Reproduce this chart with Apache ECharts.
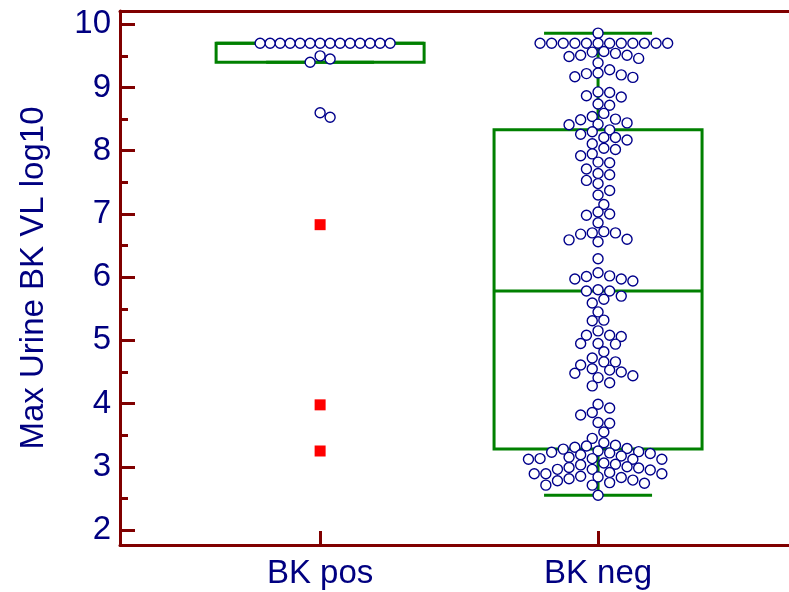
<!DOCTYPE html>
<html>
<head>
<meta charset="utf-8">
<script src="https://cdn.jsdelivr.net/npm/echarts@6/dist/echarts.min.js"></script>
<style>
  html, body { margin: 0; padding: 0; background: #fff; }
  #chart { width: 789px; height: 592px; }
</style>
</head>
<body>
<div id="chart"></div>
<script>
// groups on the x axis (placed at 1 and 2)
let categories = ['BK pos', 'BK neg'];
let yTicks = [2, 3, 4, 5, 6, 7, 8, 9, 10];
let yMinorTicks = [2.5, 3.5, 4.5, 5.5, 6.5, 7.5, 8.5, 9.5];

// box: low whisker, Q1, median, Q3, high whisker
let posBox = [9.4, 9.4, 9.7, 9.7, 9.7];
let negBox = [2.55, 3.28, 5.78, 8.33, 9.86];

// individual values
let posValues = [
    9.7, 9.7, 9.7, 9.7, 9.7, 9.7, 9.7, 9.7, 9.7, 9.7, 9.7, 9.7, 9.7, 9.7,
    9.50, 9.45, 9.40, 8.60, 8.53
];
let posOutside = [6.83, 3.98, 3.25]; // red squares

let negValues = [
    9.86,
    9.7, 9.7, 9.7, 9.7, 9.7, 9.7, 9.7, 9.7, 9.7, 9.7, 9.7, 9.7,
    9.57, 9.56, 9.54, 9.51, 9.51, 9.49, 9.46, 9.39,
    9.28, 9.23, 9.22, 9.20, 9.17, 9.16,
    8.93, 8.92, 8.87, 8.85,
    8.74, 8.72, 8.59, 8.54,
    8.50, 8.49, 8.44, 8.42, 8.41,
    8.33, 8.30, 8.26, 8.21, 8.21, 8.17,
    8.11, 8.04, 8.02, 7.95, 7.92,
    7.82, 7.81, 7.71,
    7.64, 7.62, 7.53, 7.48, 7.37, 7.30,
    7.15, 7.03, 7.00, 6.98, 6.86,
    6.72, 6.70, 6.70, 6.68, 6.60, 6.59, 6.56,
    6.29, 6.07,
    6.02, 6.01, 5.97, 5.97, 5.94,
    5.80, 5.78, 5.78, 5.70, 5.65, 5.59,
    5.45, 5.32, 5.31,
    5.15, 5.08, 5.08, 5.06, 4.95, 4.95, 4.94,
    4.82, 4.72, 4.66, 4.66, 4.61,
    4.55, 4.53, 4.50, 4.48, 4.44, 4.41, 4.33, 4.28,
    3.99, 3.93, 3.86, 3.82, 3.70, 3.69, 3.55, 3.45,
    3.38, 3.34, 3.33, 3.31, 3.29, 3.28, 3.25, 3.24, 3.23, 3.22, 3.21,
    3.19, 3.17, 3.15, 3.13, 3.13, 3.12, 3.12, 3.12,
    3.06, 3.04, 3.03, 3.00, 2.99, 2.98, 2.96, 2.96, 2.95,
    2.91, 2.89, 2.89, 2.89, 2.85, 2.84, 2.83, 2.81, 2.79, 2.78,
    2.75, 2.74, 2.71, 2.71,
    2.55
];

const axisColor = '#800000';
const textColor = '#000080';
const boxColor = '#008000';
const font = "'Liberation Sans', Arial, sans-serif";

let myChart = echarts.init(document.getElementById('chart'));

let xRange = { min: 0.28, max: 2.687 };
let yRange = { min: 1.763, max: 10.21 };

function renderBox(params, api) {
    let x = api.value(0);
    let lo = api.coord([x, api.value(1)]);
    let q1 = api.coord([x, api.value(2)]);
    let med = api.coord([x, api.value(3)]);
    let q3 = api.coord([x, api.value(4)]);
    let hi = api.coord([x, api.value(5)]);
    let cx = lo[0];
    let half = 104, cap = 54;
    let style = { stroke: boxColor, lineWidth: 3, fill: null };
    let line = (x1, y1, x2, y2) => ({ type: 'line', shape: { x1, y1, x2, y2 }, style });
    return {
        type: 'group',
        children: [
            line(cx, hi[1], cx, q3[1]),
            line(cx, q1[1], cx, lo[1]),
            line(cx - cap, hi[1], cx + cap, hi[1]),
            line(cx - cap, lo[1], cx + cap, lo[1]),
            { type: 'rect', shape: { x: cx - half, y: q3[1], width: half * 2, height: q1[1] - q3[1] }, style },
            line(cx - half, med[1], cx + half, med[1])
        ]
    };
}

let option = {
    animation: false,
    grid: { left: 120, right: 0, top: 11, bottom: 47 },
    xAxis: [
        {
            type: 'value',
            min: xRange.min,
            max: xRange.max,
            position: 'bottom',
            axisLine: { lineStyle: { color: axisColor, width: 3 } },
            axisTick: { inside: true, length: 14, customValues: [1, 2], lineStyle: { color: axisColor, width: 3 } },
            axisLabel: {
                customValues: [1, 2],
                formatter: v => categories[Math.round(v) - 1],
                color: textColor, fontSize: 33, fontFamily: font, margin: 12
            },
            splitLine: { show: false }
        },
        {
            type: 'value',
            min: xRange.min,
            max: xRange.max,
            position: 'top',
            axisLine: { lineStyle: { color: axisColor, width: 3 } },
            axisTick: { show: false },
            axisLabel: { show: false },
            splitLine: { show: false }
        }
    ],
    yAxis: [
        {
            type: 'value',
            min: yRange.min,
            max: yRange.max,
            position: 'left',
            name: 'Max Urine BK VL log10',
            nameLocation: 'middle',
            nameGap: 70,
            nameTextStyle: { color: textColor, fontSize: 33, fontFamily: font },
            axisLine: { lineStyle: { color: axisColor, width: 3 } },
            axisTick: { inside: true, length: 15, customValues: yTicks, lineStyle: { color: axisColor, width: 3 } },
            axisLabel: { customValues: yTicks, color: textColor, fontSize: 33, fontFamily: font, margin: 9 },
            splitLine: { show: false }
        },
        {
            type: 'value',
            min: yRange.min,
            max: yRange.max,
            position: 'left',
            offset: 0,
            axisLine: { show: false },
            axisTick: { inside: true, length: 8, customValues: yMinorTicks, lineStyle: { color: axisColor, width: 3 } },
            axisLabel: { show: false },
            splitLine: { show: false }
        }
    ],
    series: [
        {
            type: 'custom',
            renderItem: renderBox,
            data: [[1].concat(posBox), [2].concat(negBox)],
            z: 2
        }
    ]
};

myChart.setOption(option);

// beeswarm: slide each value sideways (in half-spacing steps) until it clears the others
function swarm(center, values, spacing, clear) {
    let step = spacing / 2;
    let placed = [];
    let out = [];
    let c = myChart.convertToPixel({ gridIndex: 0 }, [center, 5])[0];
    values.slice().sort((a, b) => b - a).forEach(v => {
        let py = myChart.convertToPixel({ gridIndex: 0 }, [center, v])[1];
        let px = c;
        for (let k = 0; k < 60; k++) {
            let found = false;
            for (const s of (k === 0 ? [0] : [k, -k])) {
                let tx = c + s * step;
                let ok = placed.every(p => (p[0] - tx) * (p[0] - tx) + (p[1] - py) * (p[1] - py) >= clear * clear - 0.01);
                if (ok) { px = tx; found = true; break; }
            }
            if (found) break;
        }
        placed.push([px, py]);
        out.push([myChart.convertFromPixel({ gridIndex: 0 }, [px, py])[0], v]);
    });
    return out;
}

let circleStyle = { color: '#ffffff', borderColor: '#00008b', borderWidth: 1.4, opacity: 1 };

myChart.setOption({
    series: [
        option.series[0],
        {
            type: 'scatter',
            symbol: 'circle',
            symbolSize: 10,
            itemStyle: circleStyle,
            data: swarm(1, posValues, 10, 9),
            z: 3
        },
        {
            type: 'scatter',
            symbol: 'circle',
            symbolSize: 10,
            itemStyle: circleStyle,
            data: swarm(2, negValues, 11.6, 9.5),
            z: 3
        },
        {
            type: 'scatter',
            symbol: 'rect',
            symbolSize: 11,
            itemStyle: { color: '#ff0000', opacity: 1 },
            data: posOutside.map(v => [1, v]),
            z: 3
        }
    ]
});
</script>
</body>
</html>
